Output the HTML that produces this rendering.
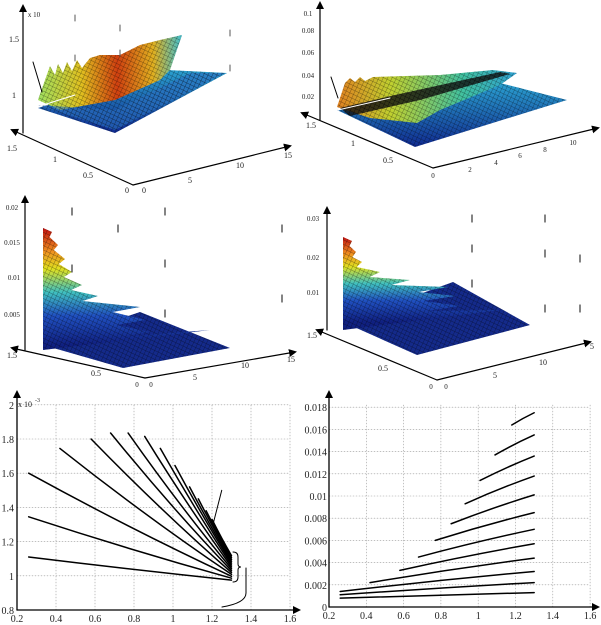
<!DOCTYPE html>
<html><head><meta charset="utf-8"><style>
html,body{margin:0;padding:0;background:#fff;}
svg{display:block;font-family:"Liberation Serif",serif;}
</style></head><body>
<svg id="s" width="601" height="625" viewBox="0 0 601 625" xmlns="http://www.w3.org/2000/svg">
<defs>
<marker id="ar" markerWidth="8" markerHeight="8" refX="6" refY="4" orient="auto" markerUnits="userSpaceOnUse"><path d="M0,0 L8,4 L0,8 z" fill="#000"/></marker>
<pattern id="mesh" width="4" height="4" patternUnits="userSpaceOnUse" patternTransform="rotate(25)"><path d="M0,0 H4 M0,0 V4" stroke="#000" stroke-width="0.7" opacity="0.55"/></pattern>
<linearGradient id="g1" x1="0" y1="0" x2="1" y2="0"><stop offset="0" stop-color="#9fe060"/><stop offset="0.3" stop-color="#e0c020"/><stop offset="0.55" stop-color="#d04010"/><stop offset="0.8" stop-color="#e0b020"/><stop offset="1" stop-color="#40c0d0"/></linearGradient>
<linearGradient id="gb" x1="0" y1="0" x2="0" y2="1"><stop offset="0" stop-color="#2aa0d0"/><stop offset="1" stop-color="#102a90"/></linearGradient>
<linearGradient id="g2" x1="0" y1="0" x2="1" y2="0"><stop offset="0" stop-color="#e08020"/><stop offset="0.3" stop-color="#c0d030"/><stop offset="0.7" stop-color="#40c0a0"/><stop offset="1" stop-color="#30a0d0"/></linearGradient>
<linearGradient id="gv3" gradientUnits="userSpaceOnUse" x1="0" y1="228" x2="0" y2="345"><stop offset="0" stop-color="#c01010"/><stop offset="0.2" stop-color="#f09020"/><stop offset="0.35" stop-color="#e0e020"/><stop offset="0.55" stop-color="#40c0c0"/><stop offset="0.75" stop-color="#2050c0"/><stop offset="1" stop-color="#102080"/></linearGradient>
<linearGradient id="gv4" gradientUnits="userSpaceOnUse" x1="0" y1="237" x2="0" y2="322"><stop offset="0" stop-color="#c01010"/><stop offset="0.2" stop-color="#f09020"/><stop offset="0.35" stop-color="#e0e020"/><stop offset="0.55" stop-color="#40c0c0"/><stop offset="0.75" stop-color="#2050c0"/><stop offset="1" stop-color="#102080"/></linearGradient>
</defs>
<g id="root" stroke-linecap="round"></g>
</svg>
<script>
var R=document.getElementById('root'),ns='http://www.w3.org/2000/svg';
function el(t,a,txt){var e=document.createElementNS(ns,t);for(var k in a)e.setAttribute(k,a[k]);if(txt!=null)e.textContent=txt;R.appendChild(e);return e;}
function ln(x1,y1,x2,y2,w,c,extra){var a={x1:x1,y1:y1,x2:x2,y2:y2,stroke:c||'#000','stroke-width':w||1};for(var k in extra)a[k]=extra[k];return el('line',a);}
function tx(x,y,s,sz,anc){return el('text',{x:x,y:y,'font-size':sz||9,'text-anchor':anc||'middle',fill:'#222'},s);}
function poly(p,f,o){el('polygon',{points:p,fill:f,opacity:o||1});el('polygon',{points:p,fill:'url(#mesh)'});}
var A={'marker-end':'url(#ar)'};
/* ---------- 3D panels ---------- */
// panel 1
poly('38,108 115,133 227,73 167,70','url(#gb)');
poly('38,100 45,80 50,66 55,75 58,64 63,73 67,62 72,71 77,60 82,68 90,58 100,55 120,55 140,45 160,40 182,35 170,70 160,80 115,100 60,110','url(#g1)');
poly('38,105 115,130 225,73 190,73 115,110','#2a70c0',0.6);
ln(33,62,42,92,1);ln(40,106,75,95,1,'#fff');
ln(23,133,23,6,1.2,'#000',A);ln(133,185,12,130,1.2,'#000',A);ln(133,185,290,146,1.2,'#000',A);
tx(14,42,'1.5',8);tx(14,98,'1',8);tx(12,151,'1.5',8);tx(55,162,'1',8);tx(88,178,'0.5',8);tx(127,193,'0',8);tx(144,193,'0',8);tx(190,183,'5',8);tx(240,168,'10',8);tx(288,158,'15',8);tx(34,17,'x 10',7);
// panel 2
poly('337,110 415,147 567,100 500,83','url(#gb)');
poly('337,107 345,83 350,78 355,82 360,77 365,81 373,77 440,75 493,70 517,73 500,85 440,110 417,123 370,118','url(#g2)');
poly('340,108 395,95 500,72 510,74 420,100 350,116','#111',0.8);
ln(331,77,338,98,1);ln(338,110,390,98,1,'#fff');
ln(320,120,320,3,1.2,'#000',A);ln(433,168,302,113,1.2,'#000',A);ln(433,168,598,128,1.2,'#000',A);
tx(308,16,'0.1',7);tx(308,33,'0.08',7);tx(308,55,'0.06',7);tx(308,78,'0.04',7);tx(308,99,'0.02',7);tx(311,128,'1.5',8);tx(353,146,'1',8);tx(388,163,'0.5',8);tx(433,178,'0',7);tx(470,172,'2',7);tx(496,165,'4',7);tx(520,158,'6',7);tx(545,152,'8',7);tx(573,145,'10',7);
// sawtooth builder
function saw(x0,levels,yb,xb){var p=[x0+','+levels[0][0]];levels.forEach(function(l){p.push(l[1]+','+(l[0]+4));p.push((x0+(l[1]-x0)*0.72)+','+(l[0]+9));});p.push(xb+','+yb);p.push(x0+','+(yb+20));return p.join(' ');}
// panel 3
poly('43,345 123,368 230,348 140,312','#142a8a');
poly(saw(43,[[228,52],[241,58],[255,65],[268,72],[281,82],[292,98],[303,140],[316,145],[328,150]],330,210),'url(#gv3)');
ln(25,350,25,197,1.2,'#000',A);ln(145,378,12,348,1.2,'#000',A);ln(145,378,295,352,1.2,'#000',A);
tx(12,210,'0.02',7);tx(12,245,'0.015',7);tx(14,280,'0.01',7);tx(12,317,'0.005',7);tx(12,358,'1.5',8);tx(96,376,'0.5',8);tx(137,387,'0',7);tx(151,387,'0',7);tx(195,380,'5',8);tx(245,368,'10',8);tx(291,362,'15',8);
// panel 4
poly('343,322 417,355 530,325 453,282','#142a8a');
poly(saw(343,[[237,352],[248,356],[258,362],[268,380],[276,410],[283,448],[292,455],[302,460]],310,500),'url(#gv4)');
ln(327,330,327,208,1.2,'#000',A);ln(437,380,317,330,1.2,'#000',A);ln(437,380,590,342,1.2,'#000',A);
tx(313,221,'0.03',7);tx(313,260,'0.02',7);tx(313,295,'0.01',7);tx(312,338,'1.5',8);tx(383,371,'0.5',8);tx(431,389,'0',7);tx(446,389,'0',7);tx(495,378,'5',8);tx(543,365,'10',8);tx(592,349,'5',8);
// dotted grid hints
[[75,15],[120,25],[230,30],[75,55],[120,50],[230,65]].forEach(function(p){ln(p[0],p[1],p[0],p[1]+6,1,'#555');});
[[72,208],[118,225],[165,208],[282,225],[72,265],[165,260],[282,295],[165,310]].forEach(function(p){ln(p[0],p[1],p[0],p[1]+7,1.2,'#333');});
[[472,215],[545,215],[472,245],[545,250],[580,255],[545,305],[580,305],[472,280]].forEach(function(p){ln(p[0],p[1],p[0],p[1]+7,1.2,'#333');});
/* ---------- bottom left ---------- */
function LX(x){return 17+195*(x-0.2);} function LY(y){return 610-171*(y-0.8);}
for(var i=0;i<=7;i++){var gx=LX(0.2+i*0.2);ln(gx,405,gx,610,0.6,'#999',{'stroke-dasharray':'1,2'});}
for(var i=0;i<=6;i++){var gy=LY(0.8+i*0.2);ln(17,gy,290,gy,0.6,'#999',{'stroke-dasharray':'1,2'});}
var Ls=[[0.26,1.11],[0.26,1.345],[0.26,1.60],[0.42,1.745],[0.58,1.80],[0.68,1.835],[0.77,1.835],[0.855,1.815],[0.935,1.745],[1.01,1.645],[1.085,1.52],[1.13,1.45],[1.17,1.38],[1.2,1.33]];
Ls.forEach(function(s,i){var ex=1.3,ey=0.975+i*0.011;var mx=(s[0]+ex)/2,my=(s[1]+ey)/2-0.04*(s[1]-ey);
el('path',{d:'M'+LX(s[0])+','+LY(s[1])+' Q'+LX(mx)+','+LY(my)+' '+LX(ex)+','+LY(ey),fill:'none',stroke:'#000','stroke-width':1.5});});
ln(LX(1.25),LY(1.5),LX(1.205),LY(1.3),1);
el('path',{d:'M233,552 q5,0 5,5 v7 q0,3 3,3 q-3,0 -3,3 v7 q0,5 -5,5',fill:'none',stroke:'#000','stroke-width':1});
el('path',{d:'M246,568 v25 q0,10 -24,14',fill:'none',stroke:'#000','stroke-width':1});
ln(17,610,17,392,1.3,'#000',A);ln(17,610,299,610,1.3,'#000',A);
['0.2','0.4','0.6','0.8','1','1.2','1.4','1.6'].forEach(function(t,i){tx(LX(0.2+i*0.2),622,t,10);});
['0.8','1','1.2','1.4','1.6','1.8','2'].forEach(function(t,i){tx(14,LY(0.8+i*0.2)+4,t,10,'end');});
tx(18,407,'x 10',8,'start');tx(35,402,'-3',6,'start');
/* ---------- bottom right ---------- */
function RX(x){return 329+186.5*(x-0.2);} function RY(y){return 607-11100*y;}
for(var i=0;i<=7;i++){var gx=RX(0.2+i*0.2);ln(gx,405,gx,607,0.6,'#999',{'stroke-dasharray':'1,2'});}
for(var i=0;i<=9;i++){var gy=RY(i*0.002);ln(329,gy,590,gy,0.6,'#999',{'stroke-dasharray':'1,2'});}
var Rs=[[0.26,0.0008,0.0013],[0.26,0.0011,0.0022],[0.26,0.0014,0.0032],[0.42,0.0022,0.0044],[0.58,0.0033,0.0057],[0.68,0.0045,0.007],[0.77,0.006,0.0085],[0.855,0.0075,0.0101],[0.93,0.0093,0.0118],[1.01,0.0114,0.0136],[1.09,0.0137,0.0155],[1.18,0.0164,0.0175]];
Rs.forEach(function(s){var ex=1.3;var mx=(s[0]+ex)/2,my=(s[1]+s[2])/2+0.06*(s[2]-s[1]);
el('path',{d:'M'+RX(s[0])+','+RY(s[1])+' Q'+RX(mx)+','+RY(my)+' '+RX(ex)+','+RY(s[2]),fill:'none',stroke:'#000','stroke-width':1.5});});
ln(329,607,329,392,1.3,'#000',A);ln(329,607,598,607,1.3,'#000',A);
['0.2','0.4','0.6','0.8','1','1.2','1.4','1.6'].forEach(function(t,i){tx(RX(0.2+i*0.2),619,t,10);});
['0','0.002','0.004','0.006','0.008','0.01','0.012','0.014','0.016','0.018'].forEach(function(t,i){tx(327,RY(i*0.002)+4,t,10,'end');});
</script>
</body></html>
